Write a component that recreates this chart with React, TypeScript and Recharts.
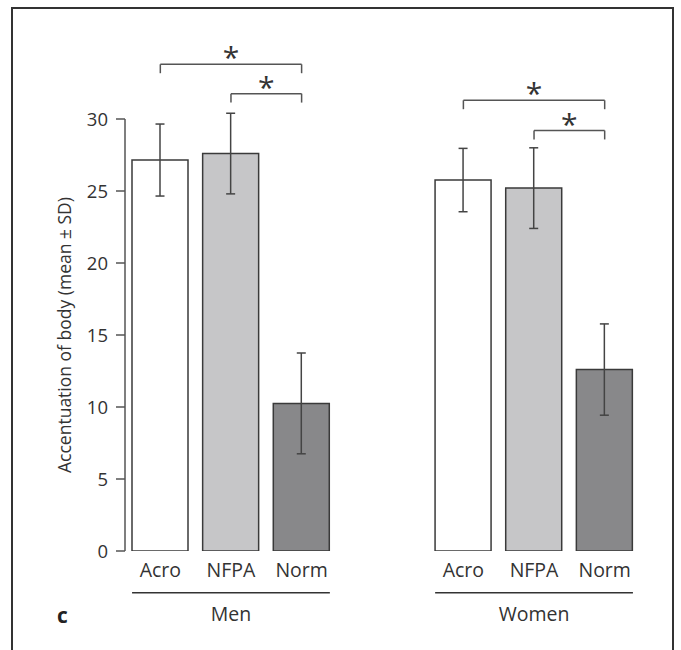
import React from "react"
import {
  BarChart,
  Bar,
  Cell,
  XAxis,
  YAxis,
  ErrorBar,
  ReferenceLine,
} from "recharts"

const groups = ["Men", "Women"]
const categories = ["Acro", "NFPA", "Norm"]
const menMean = [27.15, 27.6, 10.25]
const menSd = [2.5, 2.8, 3.5]
const womenMean = [25.76, 25.2, 12.6]
const womenSd = [2.2, 2.8, 3.17]
const fills = ["#ffffff", "#c6c6c8", "#88888a"]
const yTicks = [0, 5, 10, 15, 20, 25, 30]

// gap between the two groups, in category slots
const GAP = 1.29
const X_MAX = 6 + GAP

const menX = categories.map((_, i) => i + 0.5)
const womenX = categories.map((_, i) => 3 + GAP + i + 0.5)

const data = [
  ...categories.map((c, i) => ({ name: c, x: menX[i], mean: menMean[i], sd: menSd[i], fill: fills[i] })),
  ...categories.map((c, i) => ({ name: c, x: womenX[i], mean: womenMean[i], sd: womenSd[i], fill: fills[i] })),
]

const edgeTicks = [0, 1, 2, 3, 3 + GAP, 4 + GAP, 5 + GAP, 6 + GAP]
const labelTicks = data.map((d) => d.x)
const groupTicks = [menX[1], womenX[1]]

// significance brackets: [x from, x to, level]
const brackets = [
  { from: menX[0], to: menX[2], level: 33.8 },
  { from: menX[1], to: menX[2], level: 31.76 },
  { from: womenX[0], to: womenX[2], level: 31.3 },
  { from: womenX[1], to: womenX[2], level: 29.2 },
]
const DROP = 0.62
const underlineY = -2.9

const FONT = "'Open Sans', sans-serif"
const INK = "#333"

const emptyTick = () => <g />

export default function App() {
  return (
    <div
      style={{
        position: "absolute",
        left: 0,
        top: 0,
        width: 681,
        height: 650,
        background: "#fff",
        fontFamily: FONT,
        overflow: "hidden",
      }}
    >
      <div
        style={{
          position: "absolute",
          left: 11,
          top: 7,
          width: 659,
          height: 660,
          borderLeft: "2px solid #333",
          borderTop: "2px solid #333",
          borderRight: "2px solid #333",
        }}
      />
      <div
        style={{
          position: "absolute",
          left: 57,
          top: 601,
          fontSize: 21,
          fontWeight: 700,
          color: "#222",
        }}
      >
        c
      </div>
      <BarChart
        width={681}
        height={650}
        data={data}
        margin={{ top: 119, right: 41, bottom: 19, left: 0 }}
        style={{ position: "absolute", left: 0, top: 0, overflow: "visible" }}
      >
        <YAxis
          type="number"
          domain={[0, 30]}
          allowDataOverflow
          ticks={yTicks}
          interval={0}
          width={125}
          tickSize={9}
          tickMargin={8}
          axisLine={{ stroke: "#555", strokeWidth: 1.5 }}
          tickLine={{ stroke: "#555", strokeWidth: 1.5 }}
          tick={{ fontSize: 18.5, fill: INK, fontFamily: FONT }}
          label={{
            value: "Accentuation of body (mean ± SD)",
            angle: -90,
            position: "insideLeft",
            offset: 65,
            style: { textAnchor: "middle", fontSize: 17.5, fill: INK, fontFamily: FONT },
          }}
        />
        <XAxis
          xAxisId="a_edge"
          type="number"
          dataKey="x"
          domain={[0, X_MAX]}
          allowDataOverflow
          ticks={edgeTicks}
          interval={0}
          height={0}
          tickSize={9}
          axisLine={{ stroke: "#555", strokeWidth: 1.5 }}
          tickLine={{ stroke: "#555", strokeWidth: 1.5 }}
          tick={emptyTick}
        />
        <XAxis
          xAxisId="b_lbl"
          type="number"
          dataKey="x"
          domain={[0, X_MAX]}
          allowDataOverflow
          ticks={labelTicks}
          interval={0}
          height={40}
          tickSize={0}
          tickMargin={12}
          axisLine={false}
          tickLine={false}
          tickFormatter={(_v, i) => data[i]?.name ?? ""}
          tick={{ fontSize: 19.5, fill: INK, fontFamily: FONT }}
        />
        <XAxis
          xAxisId="c_grp"
          type="number"
          dataKey="x"
          domain={[0, X_MAX]}
          allowDataOverflow
          ticks={groupTicks}
          interval={0}
          height={40}
          tickSize={0}
          tickMargin={16}
          axisLine={false}
          tickLine={false}
          tickFormatter={(_v, i) => groups[i] ?? ""}
          tick={{ fontSize: 19.5, fill: INK, fontFamily: FONT }}
        />
        <Bar xAxisId="a_edge" dataKey="mean" barSize={56} isAnimationActive={false}>
          {data.map((d, i) => (
            <Cell key={`cell-${i}`} fill={d.fill} stroke="#3a3a3a" strokeWidth={1.5} />
          ))}
          <ErrorBar
            dataKey="sd"
            direction="y"
            width={4.5}
            stroke="#444"
            strokeWidth={1.5}
            isAnimationActive={false}
          />
        </Bar>
        {[
          [menX[0] - 0.4, menX[2] + 0.4],
          [womenX[0] - 0.4, womenX[2] + 0.4],
        ].map(([a, b], i) => (
          <ReferenceLine
            key={`ul-${i}`}
            xAxisId="a_edge"
            ifOverflow="visible"
            segment={[
              { x: a, y: underlineY },
              { x: b, y: underlineY },
            ]}
            stroke={INK}
            strokeWidth={1.5}
          />
        ))}
        {brackets.map((b, i) => (
          <ReferenceLine
            key={`bt-${i}`}
            xAxisId="a_edge"
            ifOverflow="visible"
            segment={[
              { x: b.from, y: b.level },
              { x: b.to, y: b.level },
            ]}
            stroke="#555"
            strokeWidth={1.5}
            label={{
              value: "*",
              position: "top",
              offset: -4,
              style: { fontSize: 30, fill: INK, fontFamily: FONT },
            }}
          />
        ))}
        {brackets.flatMap((b, i) =>
          [b.from, b.to].map((x, j) => (
            <ReferenceLine
              key={`bd-${i}-${j}`}
              xAxisId="a_edge"
              ifOverflow="visible"
              segment={[
                { x, y: b.level },
                { x, y: b.level - DROP },
              ]}
              stroke="#555"
              strokeWidth={1.5}
            />
          ))
        )}
      </BarChart>
    </div>
  )
}
